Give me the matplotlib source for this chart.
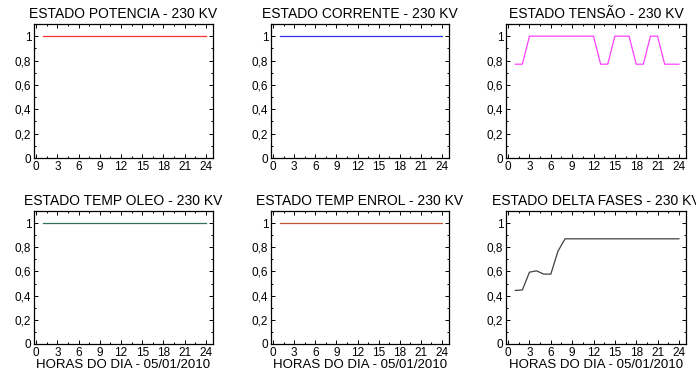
import matplotlib
matplotlib.use("Agg")
import matplotlib.pyplot as plt
from matplotlib.ticker import MultipleLocator

plt.rcParams['font.family'] = ['Liberation Sans', 'DejaVu Sans']

horas = list(range(1, 25))

potencia = [1.0] * 24
corrente = [1.0] * 24
tensao = [0.77, 0.77, 1.0, 1.0, 1.0, 1.0, 1.0, 1.0, 1.0, 1.0, 1.0, 1.0,
          0.77, 0.77, 1.0, 1.0, 1.0, 0.77, 0.77, 1.0, 1.0, 0.77, 0.77, 0.77]
temp_oleo = [1.0] * 24
temp_enrol = [1.0] * 24
delta_fases = [0.443, 0.447, 0.594, 0.605, 0.578, 0.578, 0.767, 0.87,
               0.87, 0.87, 0.87, 0.87, 0.87, 0.87, 0.87, 0.87,
               0.87, 0.87, 0.87, 0.87, 0.87, 0.87, 0.87, 0.87]

titulos = ["ESTADO POTENCIA - 230 KV", "ESTADO CORRENTE - 230 KV", "ESTADO TENSÃO - 230 KV",
           "ESTADO TEMP OLEO - 230 KV", "ESTADO TEMP ENROL - 230 KV", "ESTADO DELTA FASES - 230 KV"]
series = [potencia, corrente, tensao, temp_oleo, temp_enrol, delta_fases]
cores = ["#ff3030", "#3030ff", "#ff40ff", "#2f6f5f", "#c0562e", "#404040"]

x_ticks = [0, 3, 6, 9, 12, 15, 18, 21, 24]
y_ticks = [0, 0.2, 0.4, 0.6, 0.8, 1.0]
y_labels = ["0", "0,2", "0,4", "0,6", "0,8", "1"]
xlabel = "HORAS DO DIA - 05/01/2010"

fig = plt.figure(figsize=(6.96, 3.72), dpi=100)
W, H = 696, 372
lefts = [34, 271, 506]
widths = [179, 178, 180]
rows = [(24, 158), (211, 344)]

for i in range(6):
    r, c = divmod(i, 3)
    top, bot = rows[r]
    ax = fig.add_axes([lefts[c] / W, 1 - bot / H, widths[c] / W, (bot - top) / H])
    ax.plot(horas, series[i], color=cores[i], lw=0.9)
    ax.set_xlim(-0.3, 25)
    ax.set_ylim(0, 1.1)
    ax.set_xticks(x_ticks)
    ax.set_yticks(y_ticks)
    ax.set_yticklabels(y_labels)
    ax.xaxis.set_minor_locator(MultipleLocator(1.5))
    ax.yaxis.set_minor_locator(MultipleLocator(0.1))
    ax.tick_params(which='both', direction='in', top=True, right=True,
                   labelsize=8.5, pad=2, width=0.7)
    ax.tick_params(which='major', length=3)
    ax.tick_params(which='minor', length=1.5)
    for s in ax.spines.values():
        s.set_linewidth(0.9)
    ax.set_title(titulos[i], fontsize=10, pad=4)
    if r == 1:
        ax.set_xlabel(xlabel, fontsize=9.5, labelpad=0)

fig.savefig("out.png", dpi=100)
